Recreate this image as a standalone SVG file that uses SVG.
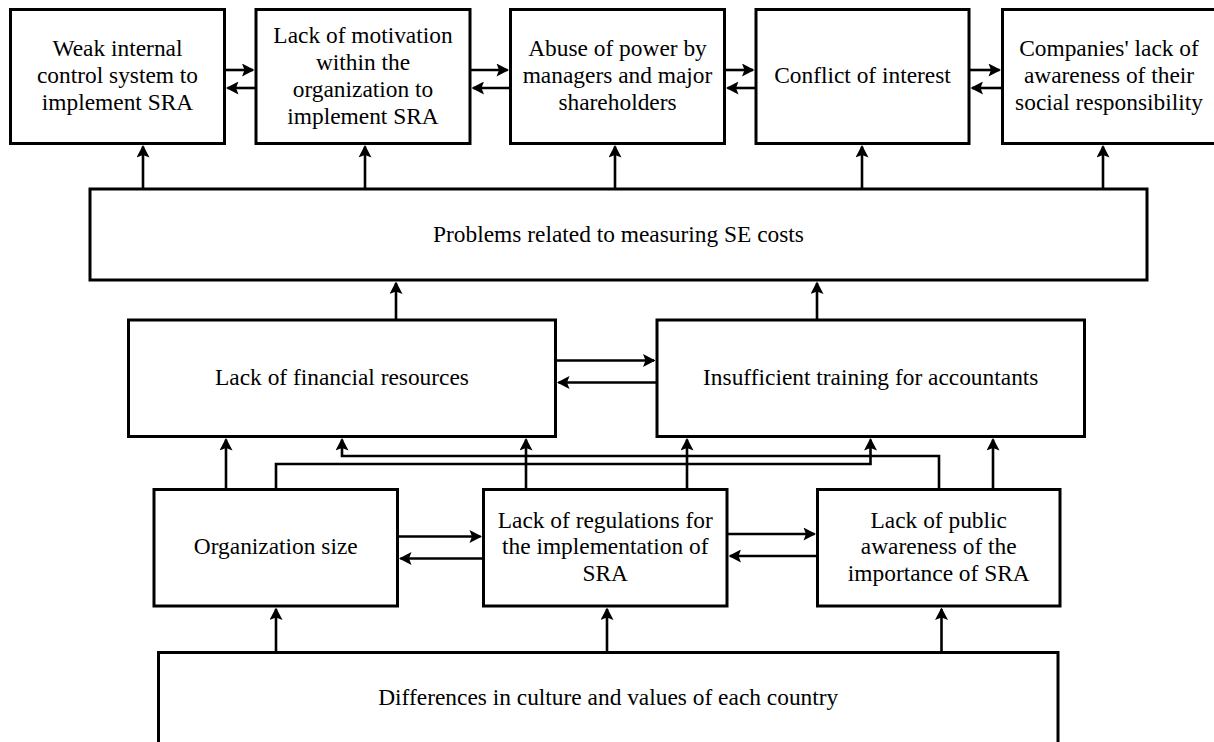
<svg xmlns="http://www.w3.org/2000/svg" width="1214" height="742" viewBox="0 0 1214 742">
<style>
.box{fill:#fff;stroke:#000;stroke-width:3}
.t{font-family:"Liberation Serif","Times New Roman",serif;font-size:23.4px;fill:#000;text-anchor:middle}
.c{fill:none;stroke:#000;stroke-width:2.6;marker-end:url(#ah)}
.l{fill:none;stroke:#000;stroke-width:2.6}
</style>
<defs>
<marker id="ah" markerUnits="userSpaceOnUse" markerWidth="13" markerHeight="13" viewBox="0 0 12.5 13" refX="11" refY="6.5" orient="auto">
<path d="M0,0 L12.5,6.5 L0,13 L2.5,6.5 Z" fill="#000"/>
</marker>
</defs>
<rect width="1214" height="742" fill="#fff"/>

<g id="connectors">
<!-- top row horizontal -->
<path class="c" d="M224.5,70 H253"/>
<path class="c" d="M470,70 H507.5"/>
<path class="c" d="M724.5,70 H753"/>
<path class="c" d="M969,70 H999.5"/>
<path class="c" d="M256,88 H227.5"/>
<path class="c" d="M510.5,88 H473"/>
<path class="c" d="M756,88 H727.5"/>
<path class="c" d="M1002.5,88 H972"/>
<!-- problems to top -->
<path class="c" d="M143,189 V146.5"/>
<path class="c" d="M365,189 V146.5"/>
<path class="c" d="M615,189 V146.5"/>
<path class="c" d="M862,189 V146.5"/>
<path class="c" d="M1103,189 V146.5"/>
<!-- middle to problems -->
<path class="c" d="M396,320 V283"/>
<path class="c" d="M817,320 V283"/>
<!-- financial <-> insufficient -->
<path class="c" d="M555.5,360.5 H654"/>
<path class="c" d="M657,382.5 H558.5"/>
<!-- lower to financial -->
<path class="c" d="M226,489.5 V439.5"/>
<path class="c" d="M526,489.5 V439.5"/>
<path class="c" d="M939,489.5 V456 H342 V439.5"/>
<!-- lower to insufficient -->
<path class="c" d="M687,489.5 V439.5"/>
<path class="c" d="M276,489.5 V464 H870.5 V439.5"/>
<path class="c" d="M993,489.5 V439.5"/>
<!-- lower row horizontals -->
<path class="c" d="M397.5,536.5 H480.5"/>
<path class="c" d="M483.5,558.5 H400.5"/>
<path class="c" d="M727,534 H814.5"/>
<path class="c" d="M817.5,556 H730"/>
<!-- differences to lower row -->
<path class="c" d="M276,652.5 V609"/>
<path class="c" d="M607,652.5 V609"/>
<path class="c" d="M941.5,652.5 V609"/>
</g>

<g id="n-weak-control">
<rect class="box" x="10.5" y="9.5" width="214" height="134"/>
<text class="t" x="117.5" y="56">Weak internal</text>
<text class="t" x="117.5" y="83">control system to</text>
<text class="t" x="117.5" y="110">implement SRA</text>
</g>
<g id="n-motivation">
<rect class="box" x="256" y="9.5" width="214" height="134"/>
<text class="t" x="363" y="42.5">Lack of motivation</text>
<text class="t" x="363" y="69.5">within the</text>
<text class="t" x="363" y="96.5">organization to</text>
<text class="t" x="363" y="123.5">implement SRA</text>
</g>
<g id="n-abuse">
<rect class="box" x="510.5" y="9.5" width="214" height="134"/>
<text class="t" x="617.5" y="56">Abuse of power by</text>
<text class="t" x="617.5" y="83">managers and major</text>
<text class="t" x="617.5" y="110">shareholders</text>
</g>
<g id="n-conflict">
<rect class="box" x="756" y="9.5" width="213" height="134"/>
<text class="t" x="862.5" y="83">Conflict of interest</text>
</g>
<g id="n-companies">
<rect class="box" x="1002.5" y="9.5" width="213" height="134"/>
<text class="t" x="1109" y="56">Companies' lack of</text>
<text class="t" x="1109" y="83">awareness of their</text>
<text class="t" x="1109" y="110">social responsibility</text>
</g>
<g id="n-problems">
<rect class="box" x="90" y="189" width="1057" height="91"/>
<text class="t" x="618.5" y="241.5">Problems related to measuring SE costs</text>
</g>
<g id="n-financial">
<rect class="box" x="128.5" y="320" width="427" height="116.5"/>
<text class="t" x="342" y="385">Lack of financial resources</text>
</g>
<g id="n-training">
<rect class="box" x="657" y="320" width="427.5" height="116.5"/>
<text class="t" x="870.75" y="385">Insufficient training for accountants</text>
</g>
<g id="n-orgsize">
<rect class="box" x="154" y="489.5" width="243.5" height="116.5"/>
<text class="t" x="275.75" y="554">Organization size</text>
</g>
<g id="n-regulations">
<rect class="box" x="483.5" y="489.5" width="243.5" height="116.5"/>
<text class="t" x="605.25" y="527.5">Lack of regulations for</text>
<text class="t" x="605.25" y="554">the implementation of</text>
<text class="t" x="605.25" y="580.5">SRA</text>
</g>
<g id="n-public">
<rect class="box" x="817.5" y="489.5" width="242.5" height="116.5"/>
<text class="t" x="938.75" y="527.5">Lack of public</text>
<text class="t" x="938.75" y="554">awareness of the</text>
<text class="t" x="938.75" y="580.5">importance of SRA</text>
</g>
<g id="n-differences">
<rect class="box" x="158.5" y="652.5" width="899.5" height="120"/>
<text class="t" x="608.25" y="704.5">Differences in culture and values of each country</text>
</g>
</svg>
